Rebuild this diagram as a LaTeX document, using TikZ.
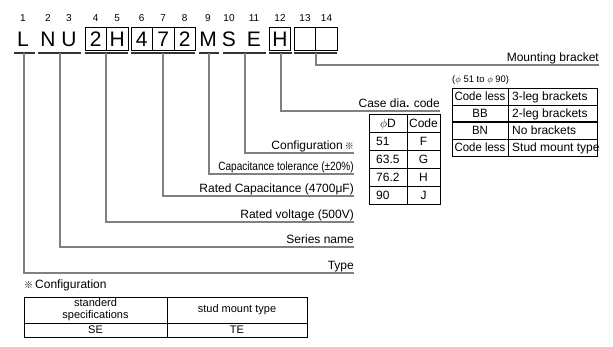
\documentclass[tikz,border=0pt]{standalone}
\usepackage{fontspec}
\setmainfont{Liberation Sans}
\newfontfamily\cjk{Noto Sans CJK JP}
\usetikzlibrary{positioning}

\tikzset{
  digit/.style={font=\fontsize{10}{12}\selectfont, inner sep=0pt},
  letter/.style={font=\fontsize{21}{24}\selectfont, inner sep=0pt, minimum height=23pt},
  boxletter/.style={letter, draw, line width=0.6pt, minimum width=21.5pt},
  uline/.style={line width=1.6pt, draw=black!80},
  lead/.style={line width=1.1pt, draw=black!50},
  tagtext/.style={font=\fontsize{12}{14}\selectfont, anchor=south east,
    inner xsep=0pt, inner ysep=3.5pt, text depth=0pt},
  cell/.style={font=\fontsize{12}{14}\selectfont, inner sep=0pt,
    text height=8.6pt, text depth=0pt},
  smallcell/.style={font=\fontsize{11}{12}\selectfont, inner sep=0pt, align=center},
  tabline/.style={line width=0.6pt},
}
\newcommand{\refmark}{{\cjk\fontsize{9}{10}\selectfont ※}}

\begin{document}
\begin{tikzpicture}[x=1pt, y=-1pt]
\useasboundingbox (0,0) rectangle (613,347);
% Position numbers
\foreach \i/\x in {1/23,2/48,3/69,4/95.7,5/117.2,6/141.7,7/163.2,8/184.7,
                   9/208,10/229,11/254,12/280,13/305,14/326.5}
  \node[digit] (n\i) at (\x,18.5) {\i};
% Code letters
\foreach \i/\x/\t in {1/23/L,2/48/N,3/69/U,9/208/M,10/229/S,11/254/E}
  \node[letter] (c\i) at (\x,39) {\t};
\foreach \i/\x/\t in {4/95.7/2,5/117.2/H,6/141.7/4,7/163.2/7,8/184.7/2,
                      12/280/H,13/305/{},14/326.5/{}}
  \node[boxletter] (c\i) at (\x,39) {\t};
% Underlines of the groups
\foreach \a/\b in {14/35,38/81,85/128,131/195,199/219,223/266,269/292,294/337}
  \draw[uline] (\a,53) -- (\b,53);
% Drop points
\coordinate (dType) at (24,53);
\coordinate (dSeries) at (60,53);
\coordinate (dVolt) at (106,53);
\coordinate (dCap) at (163,53);
\coordinate (dTol) at (209,53);
\coordinate (dConf) at (245,53);
\coordinate (dCase) at (281,53);
\coordinate (dMount) at (316,53);
% Labels
\node[tagtext] (lMount) at (599,65) {Mounting bracket};
\node[tagtext] (lCase) at (440,111) {Case dia{\bfseries .} code};
\node[tagtext] (lConf) at (354,153) {Configuration\,\refmark};
\node[tagtext] (lTol) at (354,174) {\scalebox{0.84}[1]{Capacitance tolerance (±20\%)}};
\node[tagtext] (lCap) at (354,196) {Rated Capacitance (4700μF)};
\node[tagtext] (lVolt) at (354,222) {Rated voltage (500V)};
\node[tagtext] (lSeries) at (354,247) {Series name};
\node[tagtext] (lType) at (354,273) {Type};
% Leader lines
\foreach \n in {Mount,Case,Conf,Tol,Cap,Volt,Series,Type}
  \draw[lead] (d\n) |- (l\n.south east);
% Case diameter table
\draw[tabline] (369,114) rectangle (440,204);
\draw[tabline] (407,114) -- (407,204);
\foreach \y in {132,150,168,186}
  \draw[tabline] (369,\y) -- (440,\y);
\node[cell] (pHead) at (388,123) {$\phi$D};
\node[cell] (cHead) at (423.5,123) {Code};
\foreach \d/\c [count=\k] in {51/F,63.5/G,76.2/H,90/J} {
  \node[cell, anchor=west] (pd\k) at (376,123+18*\k) {\d};
  \node[cell] (pc\k) at (423.5,123+18*\k) {\c};
}
% Mounting bracket table
\node[font=\fontsize{9.5}{11}\selectfont, anchor=west, inner sep=0pt] (range)
  at (452,80) {($\phi$ 51 to $\phi$ 90)};
\draw[tabline] (452,88) rectangle (597,156);
\draw[tabline] (508,88) -- (508,156);
\draw[tabline] (452,105) -- (597,105);
\draw[line width=1.4pt] (452,122) -- (597,122);
\draw[tabline] (452,139) -- (597,139);
\foreach \a/\b [count=\k] in {Code less/3-leg brackets,BB/2-leg brackets,
                              BN/No brackets,Code less/Stud mount type} {
  \node[cell] (ba\k) at (480,79.5+17*\k) {\scalebox{0.95}[1]{\a}};
  \node[cell, anchor=west] (bb\k) at (512,79.5+17*\k) {\b};
}
% Configuration table
\node[font=\fontsize{12}{14}\selectfont, anchor=west, inner sep=0pt] (confTitle)
  at (24,285) {\refmark\,Configuration};
\draw[tabline] (24,297) rectangle (307,337);
\draw[tabline] (167,297) -- (167,337);
\draw[tabline] (24,323) -- (307,323);
\node[smallcell] (stdHead) at (95.5,310) {standerd\\specifications};
\node[smallcell] (studHead) at (237,310) {stud mount type};
\node[smallcell] (stdCode) at (95.5,330) {SE};
\node[smallcell] (studCode) at (237,330) {TE};
\end{tikzpicture}
\end{document}
